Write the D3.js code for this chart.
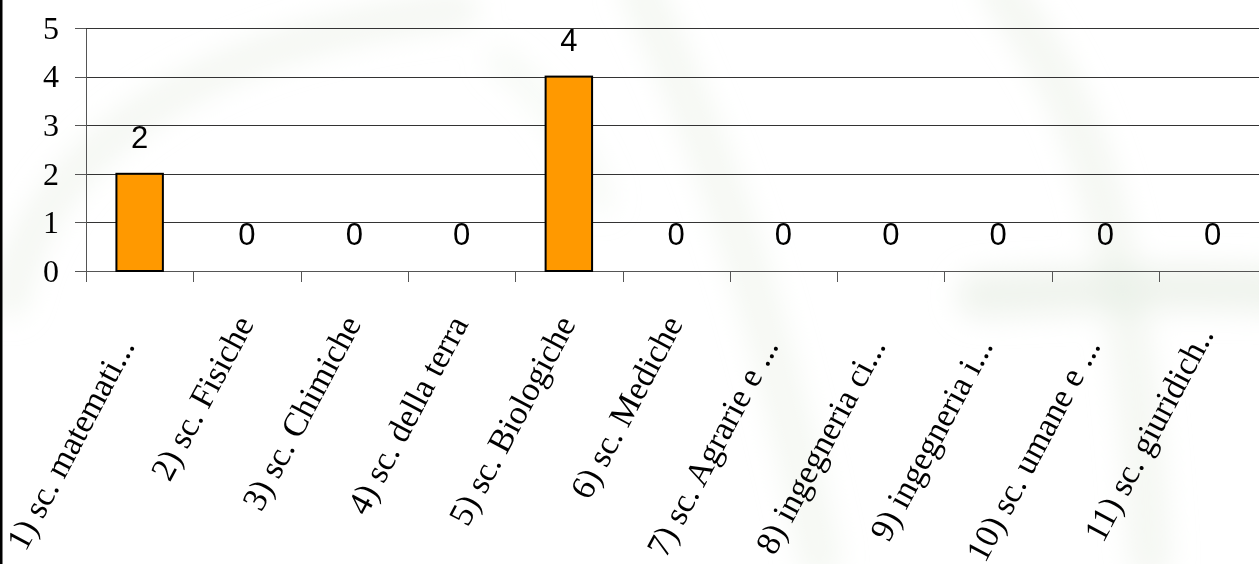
<!DOCTYPE html>
<meta charset="UTF-8">
<style>
body { margin: 0; background: #fff; }
svg { display: block; }
.grid line { stroke: #333; stroke-width: 1px; shape-rendering: crispEdges; }
.axis path, .axis line { stroke: #555; stroke-width: 1px; shape-rendering: crispEdges; }
.axis text { font-family: "Liberation Serif", serif; font-size: 32px; fill: #000; }
.bar { fill: #ff9900; stroke: #000; stroke-width: 2px; }
.value { font-family: "Liberation Sans", Arial, sans-serif; font-size: 31px; fill: #000; text-anchor: middle; }
.cat { font-family: "Liberation Serif", serif; font-size: 34px; fill: #000; text-anchor: end; }
</style>
<body>
<script src="https://cdn.jsdelivr.net/npm/d3@7"></script>
<script>

// categories on the x axis
var categories = [
  "1) sc. matemati...",
  "2) sc. Fisiche",
  "3) sc. Chimiche",
  "4) sc. della terra",
  "5) sc. Biologiche",
  "6) sc. Mediche",
  "7) sc. Agrarie e ...",
  "8) ingegneria ci...",
  "9) ingegneria i...",
  "10) sc. umane e ...",
  "11) sc. giuridich.."
];

// one series of counts
var values = [2, 0, 0, 0, 4, 0, 0, 0, 0, 0, 0];

// y axis ticks
var yTicks = [0, 1, 2, 3, 4, 5];

var W = 1259, H = 564;
var plotLeft = 86, plotBottom = 271, plotTop = 28;

var svg = d3.select("body").append("svg")
    .attr("width", W)
    .attr("height", H);

// faint green swirls in the slide background
var defs = svg.append("defs");
defs.append("filter").attr("id", "soft")
    .attr("x", "-20%").attr("y", "-20%").attr("width", "140%").attr("height", "140%")
  .append("feGaussianBlur").attr("stdDeviation", 14);

var bg = svg.append("g").attr("filter", "url(#soft)")
    .style("fill", "none")
    .style("stroke", "#e6ede2")
    .style("stroke-linecap", "round");

bg.append("path").attr("d", "M 10 300 C 40 150, 200 40, 460 10").style("stroke-width", 34).style("opacity", 0.45);
bg.append("path").attr("d", "M 640 -10 C 700 120, 760 260, 820 560").style("stroke-width", 40).style("opacity", 0.4);
bg.append("path").attr("d", "M 1000 -10 C 1080 100, 1130 200, 1150 560").style("stroke-width", 40).style("opacity", 0.45);
bg.append("path").attr("d", "M 980 295 C 1080 290, 1180 285, 1280 290").style("stroke-width", 46).style("opacity", 0.6);
bg.append("path").attr("d", "M 500 60 C 540 90, 580 140, 600 200").style("stroke-width", 28).style("opacity", 0.3);

// left frame edge
svg.append("rect").attr("x", 0).attr("y", 0).attr("width", 2.5).attr("height", H).attr("fill", "#000");

var x = d3.scaleBand()
    .domain(categories)
    .range([plotLeft, plotLeft + 107.3 * categories.length])
    .padding(0);

var y = d3.scaleLinear()
    .domain([0, 5])
    .range([plotBottom, plotTop]);

// gridlines
svg.append("g").attr("class", "grid")
  .selectAll("line")
  .data(yTicks.filter(function(d) { return d > 0; }))
  .enter().append("line")
    .attr("x1", plotLeft - 11)
    .attr("x2", W)
    .attr("y1", function(d) { return Math.round(y(d)) + 0.5; })
    .attr("y2", function(d) { return Math.round(y(d)) + 0.5; });

// y axis
svg.append("g").attr("class", "axis")
    .attr("transform", "translate(" + plotLeft + ",0)")
    .call(d3.axisLeft(y).tickValues(yTicks).tickSize(11).tickSizeOuter(0).tickPadding(16)
      .tickFormat(d3.format("d")));

// x axis baseline and category boundary ticks
var xa = svg.append("g").attr("class", "axis");
xa.append("line")
    .attr("x1", plotLeft - 11).attr("x2", W)
    .attr("y1", plotBottom + 0.5).attr("y2", plotBottom + 0.5);
var bounds = categories.map(function(c) { return x(c); }).concat([x.range()[1]]);
xa.selectAll(".xt")
  .data(bounds)
  .enter().append("line")
    .attr("class", "xt")
    .attr("x1", function(d) { return Math.round(d) + 0.5; })
    .attr("x2", function(d) { return Math.round(d) + 0.5; })
    .attr("y1", plotBottom)
    .attr("y2", plotBottom + 11);

// bars
var barW = x.bandwidth() * 0.433;
svg.selectAll(".bar")
  .data(values)
  .enter().append("rect")
    .attr("class", "bar")
    .attr("x", function(d, i) { return x(categories[i]) + (x.bandwidth() - barW) / 2; })
    .attr("y", function(d) { return y(d); })
    .attr("width", barW)
    .attr("height", function(d) { return y(0) - y(d); })
    .style("display", function(d) { return d > 0 ? null : "none"; });

// value labels
svg.selectAll(".value")
  .data(values)
  .enter().append("text")
    .attr("class", "value")
    .attr("x", function(d, i) { return x(categories[i]) + x.bandwidth() / 2; })
    .attr("y", function(d) { return y(d) - 26; })
    .text(function(d) { return d; });

// rotated category labels, anchored at their end
svg.selectAll(".cat")
  .data(categories)
  .enter().append("text")
    .attr("class", "cat")
    .attr("transform", function(d) {
      return "translate(" + (x(d) + x.bandwidth() / 2 - 3) + ",318) rotate(-62)";
    })
    .attr("x", function(d) { return /\.\.\.$/.test(d) ? -25 : (/\.\.$/.test(d) ? -12 : 0); })
    .attr("dy", "0.35em")
    .text(function(d) { return d; });

</script>
</body>
